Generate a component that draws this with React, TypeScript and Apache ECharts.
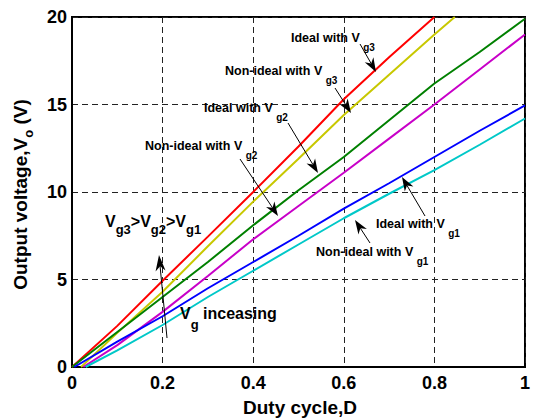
import React, { useEffect, useRef } from 'react';
import * as echarts from 'echarts';

// ---- data (duty cycle D, output voltage Vo) ----
const xTickStep = 0.2;
const yTickStep = 5;
const xRange = [0, 1];
const yRange = [0, 20];

const idealVg3 = [[0, 0], [0.1, 2.35], [0.2, 4.93], [0.3, 7.45], [0.4, 10.0], [0.5, 12.6], [0.6, 15.3], [0.7, 17.7], [0.8, 20]];
const nonIdealVg3 = [[0.02, 0], [0.1, 1.95], [0.2, 4.3], [0.3, 6.9], [0.4, 9.45], [0.5, 11.9], [0.6, 14.4], [0.7, 16.7], [0.8, 19.0], [0.845, 20]];
const idealVg2 = [[0, 0], [0.1, 2.0], [0.2, 4.0], [0.3, 6.0], [0.4, 8.1], [0.5, 10.1], [0.6, 12.0], [0.7, 14.1], [0.8, 16.2], [0.9, 18.0], [1, 19.9]];
const nonIdealVg2 = [[0.025, 0], [0.1, 1.25], [0.2, 3.15], [0.3, 5.2], [0.4, 7.3], [0.5, 9.2], [0.6, 11.1], [0.7, 13.05], [0.8, 15.0], [0.9, 17.0], [1, 19.0]];
const idealVg1 = [[0.005, 0], [0.1, 1.45], [0.2, 2.9], [0.3, 4.5], [0.4, 6.0], [0.5, 7.5], [0.6, 9.05], [0.7, 10.5], [0.8, 12.0], [0.9, 13.5], [1, 14.95]];
const nonIdealVg1 = [[0.03, 0], [0.1, 0.95], [0.2, 2.4], [0.3, 4.0], [0.4, 5.5], [0.5, 7.0], [0.6, 8.5], [0.7, 9.9], [0.8, 11.25], [0.9, 12.7], [1, 14.2]];

const seriesNames = ['Ideal with Vg3', 'Non-ideal with Vg3', 'Ideal with Vg2', 'Non-ideal with Vg2', 'Ideal with Vg1', 'Non-ideal with Vg1'];
const seriesColors = ['#ff0000', '#c8c800', '#008000', '#c800c8', '#0000ff', '#00c8c8'];
const seriesData = [idealVg3, nonIdealVg3, idealVg2, nonIdealVg2, idealVg1, nonIdealVg1];

const FONT = '"Liberation Sans", Arial, Helvetica, sans-serif';

let measureCtx: CanvasRenderingContext2D | null = null;
function tw(text: string, size: number): number {
  if (!measureCtx) measureCtx = document.createElement('canvas').getContext('2d');
  if (!measureCtx) return text.length * size * 0.55;
  measureCtx.font = `bold ${size}px ${FONT}`;
  return measureCtx.measureText(text).width;
}

type Part = { t: string; sub?: boolean };

function runText(x: number, y: number, parts: Part[], size: number, subSize: number, subDy: number, subGap = 0): any[] {
  const out: any[] = [];
  let cx = x;
  parts.forEach((p) => {
    const sz = p.sub ? subSize : size;
    if (p.sub) cx += subGap;
    out.push({
      type: 'text',
      x: cx,
      y: p.sub ? y + subDy : y,
      z: 100,
      style: {
        text: p.t,
        fontSize: sz,
        fontWeight: 'bold',
        fontFamily: FONT,
        fill: '#000',
        textAlign: 'left',
        textVerticalAlign: 'middle',
        align: 'left',
        verticalAlign: 'middle',
      },
    });
    cx += tw(p.t, sz);
  });
  return out;
}

function runWidth(parts: Part[], size: number, subSize: number, subGap = 0): number {
  return parts.reduce((s, p) => s + tw(p.t, p.sub ? subSize : size) + (p.sub ? subGap : 0), 0);
}

function arrow(x1: number, y1: number, x2: number, y2: number, L = 14, W = 10): any[] {
  const dx = x2 - x1;
  const dy = y2 - y1;
  const len = Math.sqrt(dx * dx + dy * dy);
  const ux = dx / len;
  const uy = dy / len;
  const nx = -uy;
  const ny = ux;
  const bx = x2 - L * ux;
  const by = y2 - L * uy;
  const mx = x2 - 0.7 * L * ux;
  const my = y2 - 0.7 * L * uy;
  return [
    { type: 'line', z: 100, shape: { x1, y1, x2: mx, y2: my }, style: { stroke: '#000', lineWidth: 1 } },
    {
      type: 'polygon',
      z: 100,
      shape: { points: [[x2, y2], [bx + (W / 2) * nx, by + (W / 2) * ny], [mx, my], [bx - (W / 2) * nx, by - (W / 2) * ny]] },
      style: { fill: '#000' },
    },
  ];
}

export default function App() {
  const ref = useRef<HTMLDivElement>(null);

  useEffect(() => {
    if (!ref.current) return;
    const chart = echarts.init(ref.current, null, { renderer: 'svg' });

    const ann = 12.5;
    const annSub = 10;
    const annDy = 9;
    const annGap = 3.5;

    const yLabelParts: Part[] = [{ t: 'Output voltage,V' }, { t: 'o', sub: true }, { t: ' (V)' }];
    const yLabelW = runWidth(yLabelParts, 19, 13);

    const graphics: any[] = [
      ...runText(291, 38, [{ t: 'Ideal with V' }, { t: 'g3', sub: true }], ann, annSub, annDy, annGap),
      ...arrow(360, 44, 376, 72),
      ...runText(225, 71, [{ t: 'Non-ideal with V' }, { t: 'g3', sub: true }], ann, annSub, annDy, annGap),
      ...arrow(335, 88, 351, 113),
      ...runText(204, 108, [{ t: 'Ideal with V' }, { t: 'g2', sub: true }], ann, annSub, annDy, annGap),
      ...arrow(288, 123, 318, 173),
      ...runText(145, 146, [{ t: 'Non-ideal with V' }, { t: 'g2', sub: true }], ann, annSub, annDy, annGap),
      ...arrow(240, 159, 278, 216),
      ...runText(376, 224, [{ t: 'Ideal with V' }, { t: 'g1', sub: true }], ann, annSub, annDy, annGap),
      ...arrow(425, 216, 402, 177),
      ...runText(316, 252, [{ t: 'Non-ideal with V' }, { t: 'g1', sub: true }], ann, annSub, annDy, annGap),
      ...arrow(370, 243, 355, 220),
      ...runText(105, 221, [
        { t: 'V' }, { t: 'g3', sub: true }, { t: '>V' }, { t: 'g2', sub: true }, { t: '>V' }, { t: 'g1', sub: true },
      ], 16, 13, 8),
      ...arrow(167, 338, 159, 255, 16, 10),
      ...runText(180, 313, [{ t: 'V' }, { t: 'g', sub: true }, { t: ' inceasing' }], 16, 13, 11),
      {
        type: 'text',
        x: 300,
        y: 407,
        style: {
          text: 'Duty cycle,D',
          fontSize: 19,
          fontWeight: 'bold',
          fontFamily: FONT,
          fill: '#000',
          textAlign: 'center',
          textVerticalAlign: 'middle',
          align: 'center',
          verticalAlign: 'middle',
        },
      },
      {
        type: 'group',
        x: 20,
        y: 194.5 + yLabelW / 2,
        rotation: Math.PI / 2,
        children: runText(0, 0, yLabelParts, 19, 13, 8),
      },
    ];

    const axisLabelStyle = { color: '#000', fontSize: 18, fontWeight: 'bold' as const, fontFamily: FONT };

    chart.setOption({
      animation: false,
      backgroundColor: '#fff',
      grid: { left: 72, right: 1, top: 17, bottom: 53, show: true, borderColor: '#000', borderWidth: 2, backgroundColor: 'transparent' },
      xAxis: {
        type: 'value',
        min: xRange[0],
        max: xRange[1],
        interval: xTickStep,
        axisLine: { show: true, lineStyle: { color: '#000', width: 2 } },
        axisTick: { show: false },
        axisLabel: { ...axisLabelStyle, margin: 7, formatter: (v: number) => String(+v.toFixed(1)) },
        splitLine: { show: true, lineStyle: { color: '#222', type: [6, 4], width: 1 } },
      },
      yAxis: {
        type: 'value',
        min: yRange[0],
        max: yRange[1],
        interval: yTickStep,
        axisLine: { show: true, lineStyle: { color: '#000', width: 2 } },
        axisTick: { show: false },
        axisLabel: { ...axisLabelStyle, margin: 5 },
        splitLine: { show: true, lineStyle: { color: '#222', type: [6, 4], width: 1 } },
      },
      series: seriesData.map((d, i) => ({
        name: seriesNames[i],
        type: 'line',
        data: d,
        showSymbol: false,
        symbol: 'none',
        lineStyle: { color: seriesColors[i], width: 2 },
        itemStyle: { color: seriesColors[i] },
        z: 3,
      })),
      graphic: graphics,
    });

    return () => chart.dispose();
  }, []);

  return <div ref={ref} style={{ position: 'fixed', left: 0, top: 0, width: 533, height: 420, background: '#fff' }} />;
}
